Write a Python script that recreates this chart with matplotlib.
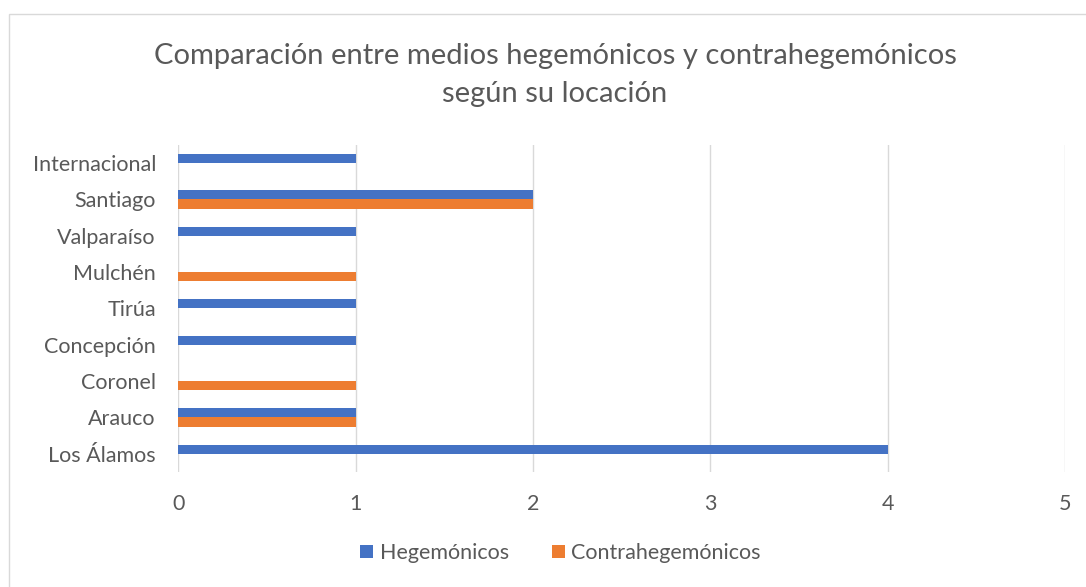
import numpy as np
import matplotlib.pyplot as plt
from matplotlib.patches import Rectangle

# data
locations = ["Los Álamos", "Arauco", "Coronel", "Concepción", "Tirúa",
             "Mulchén", "Valparaíso", "Santiago", "Internacional"]
hegemonicos = [4, 1, 0, 1, 1, 0, 1, 2, 1]
contrahegemonicos = [0, 1, 1, 0, 0, 1, 0, 2, 0]

plt.rcParams['font.family'] = ['Lato', 'DejaVu Sans']
TEXT = "#595959"

fig = plt.figure(figsize=(10.86, 5.87), dpi=100)
ax = fig.add_axes([0.164, 0.196, 0.817, 0.557])

y = np.arange(len(locations))
h = 0.25
ax.barh(y + h/2, hegemonicos, height=h, color="#4472C4", label="Hegemónicos", zorder=3)
ax.barh(y - h/2, contrahegemonicos, height=h, color="#ED7D31", label="Contrahegemónicos", zorder=3)

ax.set_xlim(0, 5)
ax.set_ylim(-0.5, len(locations) - 0.5)
ax.set_xticks(range(6))
ax.set_yticks(y)
ax.set_yticklabels(locations)
ax.grid(axis="x", color="#D9D9D9", linewidth=1, zorder=0)
for s in ax.spines.values():
    s.set_visible(False)
ax.tick_params(length=0, labelsize=15.5, labelcolor=TEXT)
ax.tick_params(axis="x", pad=16)
ax.tick_params(axis="y", pad=16)

fig.text(0.511, 0.872, "Comparación entre medios hegemónicos y contrahegemónicos\nsegún su locación",
         ha="center", va="center", fontsize=21, color=TEXT, linespacing=1.55)

leg = fig.legend(loc="center", bbox_to_anchor=(0.516, 0.058), ncol=2, frameon=False,
                 fontsize=15.5, handlelength=0.6, handleheight=0.6, columnspacing=2.0,
                 handletextpad=0.3)
for t in leg.get_texts():
    t.set_color(TEXT)

# chart border
fig.patches.append(Rectangle((9/1086, -0.1), 1.2, 1 - 14/587 + 0.1, transform=fig.transFigure,
                             fill=False, edgecolor="#D9D9D9", linewidth=1))

plt.savefig("out.png")
